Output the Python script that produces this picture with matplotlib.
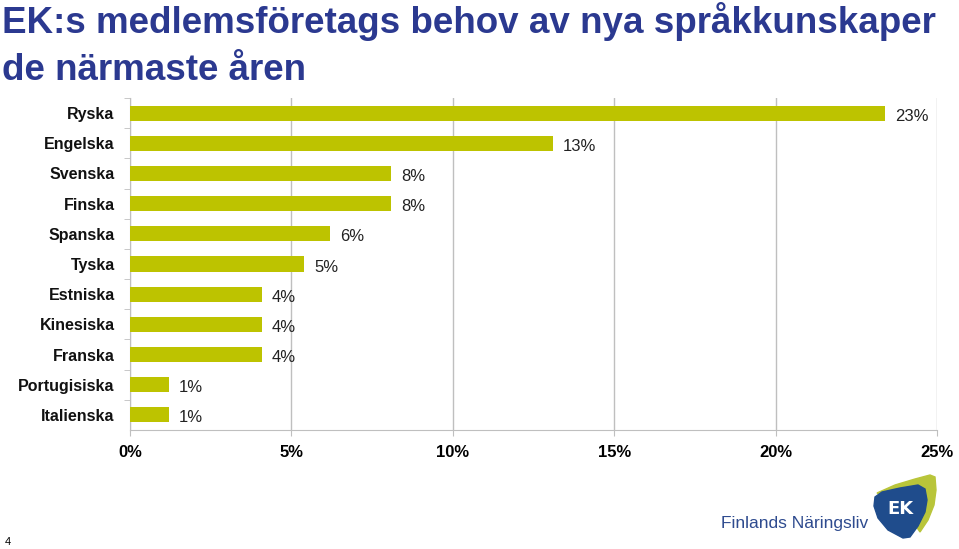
import matplotlib.pyplot as plt
from matplotlib.patches import Polygon

languages = ['Ryska', 'Engelska', 'Svenska', 'Finska', 'Spanska', 'Tyska',
             'Estniska', 'Kinesiska', 'Franska', 'Portugisiska', 'Italienska']
values = [23.4, 13.1, 8.1, 8.1, 6.2, 5.4, 4.1, 4.1, 4.1, 1.2, 1.2]
value_labels = ['23%', '13%', '8%', '8%', '6%', '5%', '4%', '4%', '4%', '1%', '1%']
x_ticks = [0, 5, 10, 15, 20, 25]
x_tick_labels = ['0%', '5%', '10%', '15%', '20%', '25%']

title_blue = '#2B3990'
bar_color = '#BDC300'
grid_gray = '#BFBFBF'

plt.rcParams['font.family'] = ['Liberation Sans', 'DejaVu Sans']

W, H = 959, 549
fig = plt.figure(figsize=(W / 100, H / 100), dpi=100)

def fx(x):
    return x / W

def fy(y):
    return 1 - y / H

ax = fig.add_axes([fx(130), fy(430), fx(937) - fx(130), fy(98) - fy(430)])

pos = list(range(len(languages)))
ax.barh(pos, values, height=0.5, color=bar_color, zorder=3)
for p, v, lab in zip(pos, values, value_labels):
    ax.text(v + 0.3, p + 0.1, lab, va='center', ha='left', fontsize=12, color='#222222')

ax.set_xlim(0, 25)
ax.set_ylim(len(languages) - 0.5, -0.5)
ax.set_yticks(pos)
ax.set_yticklabels(languages, fontsize=11.5, fontweight='bold', color='#111111')
# category ticks sit between the bars
ax.set_yticks([p + 0.5 for p in pos[:-1]] + [-0.5], minor=True)
ax.tick_params(axis='y', which='major', length=0, pad=11)
ax.tick_params(axis='y', which='minor', length=4, color=grid_gray)
ax.set_xticks(x_ticks)
ax.set_xticklabels(x_tick_labels, fontsize=12, fontweight='bold')
ax.tick_params(axis='x', length=4, color=grid_gray, pad=7)
ax.xaxis.grid(True, color=grid_gray, linewidth=1, zorder=0)
ax.set_axisbelow(True)
for s in ['top', 'right']:
    ax.spines[s].set_visible(False)
for s in ['left', 'bottom']:
    ax.spines[s].set_color(grid_gray)

fig.text(fx(2), fy(33), 'EK:s medlemsföretags behov av nya språkkunskaper',
         fontsize=26.5, fontweight='bold', color=title_blue, ha='left', va='baseline')
fig.text(fx(2), fy(80), 'de närmaste åren',
         fontsize=26.5, fontweight='bold', color=title_blue, ha='left', va='baseline')

fig.text(fx(5), fy(545), '4', fontsize=8, ha='left', va='baseline')

# logo
fig.text(fx(868), fy(528), 'Finlands Näringsliv', fontsize=12.5, color='#2E4B8F',
         ha='right', va='baseline')
green = [(877, 493), (895, 485), (915, 479), (930, 475), (935, 477), (936, 490),
         (934, 505), (928, 520), (920, 532), (905, 510)]
blue = [(875, 497), (882, 492), (900, 488), (918, 485), (925, 489), (927, 500),
        (925, 512), (918, 526), (910, 537), (903, 538), (888, 530), (878, 518),
        (874, 506)]
fig.patches.append(Polygon([(fx(x), fy(y)) for x, y in green], closed=True,
                           transform=fig.transFigure, color='#B9C53A', zorder=1))
fig.patches.append(Polygon([(fx(x), fy(y)) for x, y in blue], closed=True,
                           transform=fig.transFigure, color='#1F4C8C', zorder=2))
fig.text(fx(900), fy(509), 'EK', fontsize=13, fontweight='bold', color='white',
         family='DejaVu Sans', ha='center', va='center', zorder=3)

fig.savefig('out.png', dpi=100)
